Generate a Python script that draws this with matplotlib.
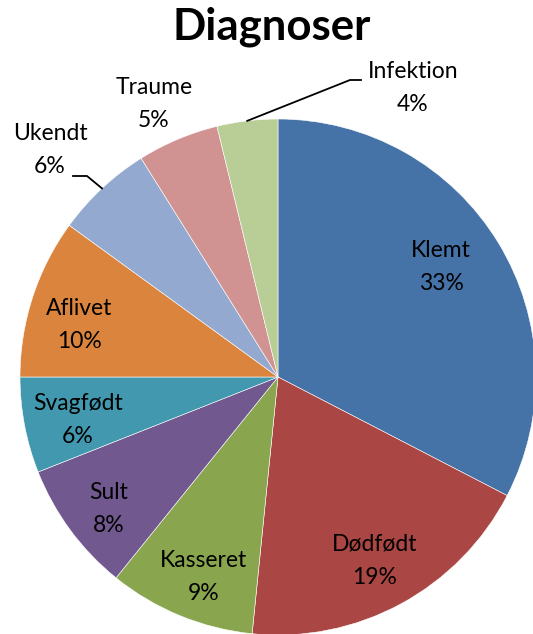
import matplotlib.pyplot as plt
import numpy as np

labels = ['Klemt', 'Dødfødt', 'Kasseret', 'Sult', 'Svagfødt', 'Aflivet', 'Ukendt', 'Traume', 'Infektion']
values = [32.6, 19.0, 9.2, 8.2, 6.0, 10.0, 6.1, 5.1, 3.8]
colors = ['#4572A7', '#AA4643', '#89A54E', '#71588F', '#4198AF', '#DB843D', '#93A9CF', '#D19392', '#B9CD96']

W, H = 533, 634
# label centres in pixels from top-left
label_px = [(441, 267), (375, 561), (204, 577), (109, 509), (78, 420),
             (79, 325), (50, 150), (154, 104), (413, 88)]

fig = plt.figure(figsize=(W / 100, H / 100), dpi=100)
ax = fig.add_axes([0, 0, 1, 1])

cx, cy, r = 278, H - 377, 258
wedges, _ = ax.pie(values, colors=colors, startangle=90, counterclock=False,
                   center=(cx, cy), radius=r, frame=True,
                   wedgeprops=dict(edgecolor='white', linewidth=0.4))
ax.set_xlim(0, W)
ax.set_ylim(0, H)
ax.set_aspect('equal')
ax.axis('off')

font = ['Lato', 'DejaVu Sans']
fs = 16.5
ls = 1.72
total = sum(values)
for i, w in enumerate(wedges):
    ang = np.deg2rad((w.theta1 + w.theta2) / 2)
    pct = round(values[i] / total * 100)
    x, y = label_px[i]
    ax.text(x, H - y, f'{labels[i]}\n{pct}%', ha='center', va='center',
            fontsize=fs, family=font, linespacing=ls)
    ex, ey = cx + r * np.cos(ang), cy + r * np.sin(ang)
    if labels[i] == 'Infektion':
        ax.plot([ex, 350, 361], [ey, H - 80, H - 80], color='black', lw=1.3)
    if labels[i] == 'Ukendt':
        ax.plot([ex, 87, 73], [ey, H - 176, H - 176], color='black', lw=1.3)

ax.text(272, H - 27, 'Diagnoser', ha='center', va='center',
        fontsize=31.5, fontweight='bold', family=font)

fig.savefig('out.png', dpi=100)
